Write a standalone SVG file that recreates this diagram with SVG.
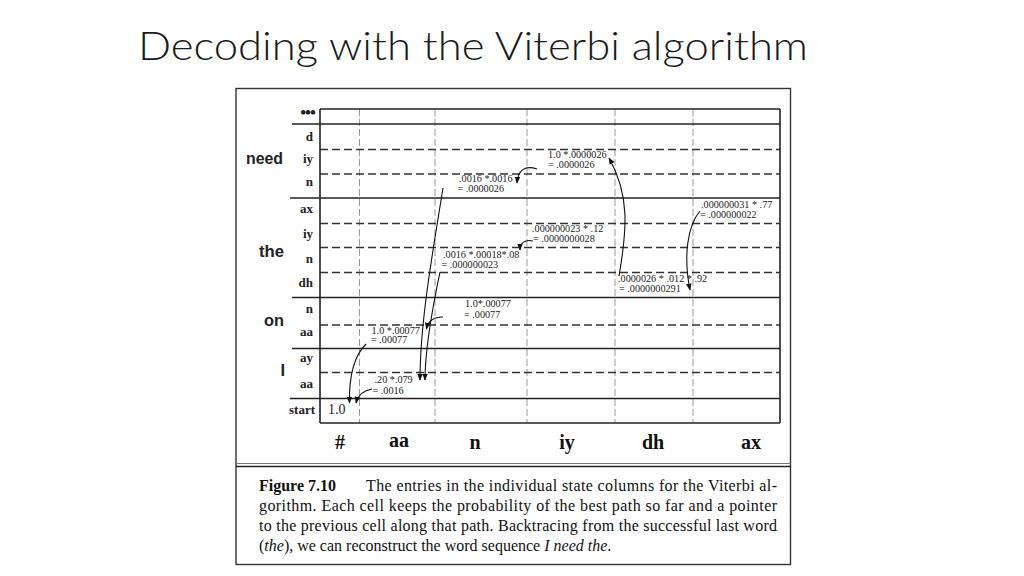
<svg xmlns="http://www.w3.org/2000/svg" width="1024" height="576" viewBox="0 0 1024 576">
<defs>
<style>
.title{font-family:Lato,"Open Sans","Liberation Sans",sans-serif;font-weight:300;font-size:39px;fill:#1a1a1a}
.solid{stroke:#222;stroke-width:1.6;fill:none}
.dash{stroke:#333;stroke-width:1.4;stroke-dasharray:8 4;fill:none}
.vdash{stroke:#9a9a9a;stroke-width:1;stroke-dasharray:7 3;fill:none}
.row{font-family:"Liberation Serif",serif;font-weight:bold;font-size:13px;fill:#222;text-anchor:end}
.word{font-family:"Liberation Sans",Arial,sans-serif;font-weight:bold;font-size:16.5px;fill:#222;text-anchor:end}
.col{font-family:"Liberation Serif",serif;font-weight:bold;font-size:20px;fill:#111;text-anchor:middle}
.val{font-family:"Liberation Serif",serif;font-size:10.2px;fill:#222}
.cap{font-family:"Liberation Serif",serif;font-size:16px;fill:#111}
.arrow{stroke:#111;stroke-width:1.1;fill:none;marker-end:url(#ah)}
</style>
<marker id="ah" viewBox="0 0 10 10" refX="9" refY="5" markerWidth="7" markerHeight="7" markerUnits="userSpaceOnUse" orient="auto">
<path d="M0,1 L10,5 L0,9 Z" fill="#111"/>
</marker>
</defs>
<rect width="1024" height="576" fill="#fff"/>
<text class="title" x="138" y="60" textLength="670" lengthAdjust="spacingAndGlyphs">Decoding with the Viterbi algorithm</text>

<g id="figure-frame">
<rect x="236" y="88.5" width="554.5" height="476" fill="none" stroke="#333" stroke-width="1.4"/>
<line x1="236" y1="463.5" x2="790.5" y2="463.5" stroke="#777" stroke-width="1"/>
<line x1="236" y1="466.5" x2="790.5" y2="466.5" stroke="#222" stroke-width="1.3"/>
</g>

<g id="grid">
<line class="vdash" x1="359.5" y1="109" x2="359.5" y2="423"/>
<line class="vdash" x1="435" y1="109" x2="435" y2="423"/>
<line class="vdash" x1="527" y1="109" x2="527" y2="423"/>
<line class="vdash" x1="615" y1="109" x2="615" y2="423"/>
<line class="vdash" x1="693" y1="109" x2="693" y2="423"/>
<line class="dash" x1="320" y1="149.5" x2="780" y2="149.5"/>
<line class="dash" x1="320" y1="174" x2="780" y2="174"/>
<line class="dash" x1="320" y1="223.5" x2="780" y2="223.5"/>
<line class="dash" x1="320" y1="247.5" x2="780" y2="247.5"/>
<line class="dash" x1="320" y1="272.5" x2="780" y2="272.5"/>
<line class="dash" x1="320" y1="325" x2="780" y2="325"/>
<line class="dash" x1="320" y1="372.5" x2="780" y2="372.5"/>
<line class="solid" x1="320" y1="109" x2="780" y2="109"/>
<line class="solid" x1="292" y1="124" x2="780" y2="124"/>
<line class="solid" x1="290" y1="198" x2="780" y2="198"/>
<line class="solid" x1="292" y1="297.5" x2="780" y2="297.5"/>
<line class="solid" x1="292" y1="348.5" x2="780" y2="348.5"/>
<line class="solid" x1="290" y1="398.5" x2="780" y2="398.5"/>
<line class="solid" x1="320" y1="423" x2="780" y2="423"/>
<line class="solid" x1="320" y1="109" x2="320" y2="423"/>
<line class="solid" x1="780" y1="109" x2="780" y2="423"/>
</g>

<g id="row-labels">
<text class="row" x="315" y="118" style="font-size:17px;letter-spacing:-1px">•••</text>
<text class="row" x="313" y="141">d</text>
<text class="row" x="313" y="163">iy</text>
<text class="row" x="313" y="186">n</text>
<text class="row" x="313" y="213">ax</text>
<text class="row" x="313" y="238">iy</text>
<text class="row" x="313" y="262.5">n</text>
<text class="row" x="313" y="287">dh</text>
<text class="row" x="313" y="312.5">n</text>
<text class="row" x="313" y="335.5">aa</text>
<text class="row" x="313" y="361.5">ay</text>
<text class="row" x="313" y="388">aa</text>
<text class="row" x="315" y="414">start</text>
</g>

<g id="word-labels">
<text class="word" x="283" y="164" textLength="37" lengthAdjust="spacingAndGlyphs">need</text>
<text class="word" x="284" y="257" textLength="25" lengthAdjust="spacingAndGlyphs">the</text>
<text class="word" x="284" y="326" textLength="20" lengthAdjust="spacingAndGlyphs">on</text>
<text class="word" x="285" y="376">I</text>
</g>

<g id="column-labels">
<text class="col" x="340" y="449">#</text>
<text class="col" x="399" y="447">aa</text>
<text class="col" x="475" y="449">n</text>
<text class="col" x="567" y="449">iy</text>
<text class="col" x="653" y="449">dh</text>
<text class="col" x="751" y="449">ax</text>
</g>

<g id="cell-start"><text class="val" x="328" y="414" style="font-size:14px">1.0</text></g>
<g id="cell-I-aa"><text class="val" x="374.5" y="383">.20 *.079</text><text class="val" x="372.5" y="393.5">= .0016</text></g>
<g id="cell-on-aa"><text class="val" x="371.5" y="333.5">1.0 *.00077</text><text class="val" x="371" y="343">= .00077</text></g>
<g id="cell-on-n"><text class="val" x="465" y="307">1.0*.00077</text><text class="val" x="464" y="317.5">= .00077</text></g>
<g id="cell-need-n"><text class="val" x="459" y="182">.0016 *.0016</text><text class="val" x="457.5" y="192">= .0000026</text></g>
<g id="cell-the-n"><text class="val" x="443" y="257.5">.0016 *.00018*.08</text><text class="val" x="441.5" y="267.5">= .000000023</text></g>
<g id="cell-need-iy"><text class="val" x="548" y="158">1.0 *.0000026</text><text class="val" x="548" y="168">= .0000026</text></g>
<g id="cell-the-iy"><text class="val" x="532" y="232">.000000023 * .12</text><text class="val" x="533" y="242">= .0000000028</text></g>
<g id="cell-the-dh"><text class="val" x="618" y="282">.0000026 * .012 * .92</text><text class="val" x="619" y="292">= .0000000291</text></g>
<g id="cell-the-ax"><text class="val" x="701" y="207.5">.000000031 * .77</text><text class="val" x="700" y="217.5">= .000000022</text></g>

<g id="connectors">
<path class="arrow" d="M366,344 C352,358 349,380 349.5,403"/>
<path class="arrow" d="M372,389 C363,390.5 358,395 356,403"/>
<path class="arrow" d="M443,188 C434,245 420,320 420,380"/>
<path class="arrow" d="M440,272 C432,310 425,350 425,380"/>
<path class="arrow" d="M443,317 C433,317 428,321 426.5,329"/>
<path class="arrow" d="M537,169 C525,165 518,170 517,183"/>
<path class="arrow" d="M533,241 C525,239 520,243 520,250"/>
<path class="arrow" d="M619,276 C627,230 630,195 609,158"/>
<path class="arrow" d="M700,211 C688,225 683,255 690,290"/>
</g>

<g id="caption">
<text class="cap" x="259" y="491"><tspan font-weight="bold">Figure 7.10</tspan></text>
<text class="cap" x="366" y="491" textLength="411" lengthAdjust="spacing">The entries in the individual state columns for the Viterbi al-</text>
<text class="cap" x="259" y="511" textLength="518" lengthAdjust="spacing">gorithm. Each cell keeps the probability of the best path so far and a pointer</text>
<text class="cap" x="259" y="531" textLength="518" lengthAdjust="spacing">to the previous cell along that path. Backtracing from the successful last word</text>
<text class="cap" x="259" y="551">(<tspan font-style="italic">the</tspan>), we can reconstruct the word sequence <tspan font-style="italic">I need the</tspan>.</text>
</g>
</svg>
